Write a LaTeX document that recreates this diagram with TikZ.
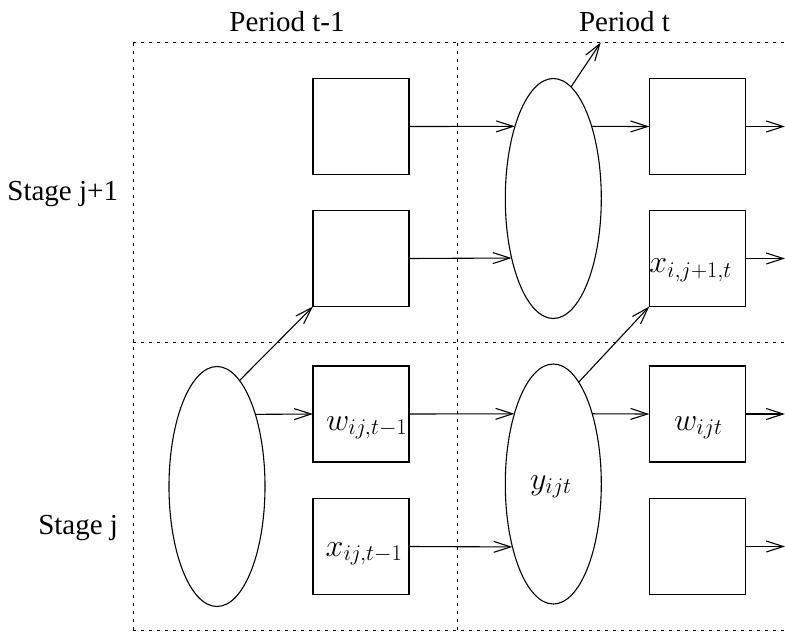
\RequirePackage{fix-cm}
\documentclass[tikz,border=0pt]{standalone}
\usepackage[no-math]{fontspec}
\setmainfont{Liberation Serif}
\usetikzlibrary{arrows.meta,shapes.geometric}
\begin{document}
\begin{tikzpicture}[x=1pt,y=-1pt,
  every node/.style={inner sep=0pt,outer sep=0pt},
  box/.style={draw,line width=1.1pt,minimum width=96pt,minimum height=96pt},
  ell/.style={draw,ellipse,line width=1.1pt,minimum width=96pt,minimum height=240pt},
  frame/.style={line width=1pt,dash pattern=on 3.3pt off 4.7pt},
  conn/.style={line width=1.1pt,-{Straight Barb[length=17pt,width=11pt]}},
  lbl/.style={font=\fontsize{29}{34}\selectfont},
  mlbl/.style={font=\fontsize{32}{38}\selectfont,anchor=base west}
]
\useasboundingbox (0,0) rectangle (785,632);
% frame
\draw[frame] (133,42.5) -- (785,42.5);
\draw[frame] (133,342) -- (785,342);
\draw[frame] (133,630) -- (785,630);
\draw[frame] (133,42.5) -- (133,630);
\draw[frame] (457,42.5) -- (457,630);
% boxes
\node[box] (a1) at (361,126.5) {};
\node[box] (a2) at (361,258.5) {};
\node[box] (a3) at (361,414) {};
\node[box] (a4) at (361,546.5) {};
\node[box] (c1) at (697.3,126.5) {};
\node[box] (c2) at (697.3,258.5) {};
\node[box] (c3) at (697.3,414) {};
\node[box] (c4) at (697.3,546.5) {};
% ellipses
\node[ell] (e1) at (217,486.5) {};
\node[ell] (et) at (553.3,198.5) {};
\node[ell] (eb) at (553.3,484) {};
% free ends
\coordinate (redge) at (785,0);
\coordinate (ptop) at (600.7,42.5);
% connectors
\draw[conn] (a1.east) -- (et.118);
\draw[conn] (a2.east) -- (et.235);
\draw[conn] (et.62) -- (c1.west);
\draw[conn] (et.81) -- (ptop);
\draw[conn] (a3.east) -- (eb.119);
\draw[conn] (a4.east) -- (eb.237);
\draw[conn] (eb.61) -- (c3.west);
\draw[conn] (eb.76) -- (c2.south west);
\draw[conn] (e1.62) -- (a3.west);
\draw[conn] (e1.78) -- (a2.south west);
\draw[conn] (c1.east) -- (c1.east -| redge);
\draw[conn] (c2.east) -- (c2.east -| redge);
\draw[conn] (c3.east) -- (c3.east -| redge);
\draw[conn] (c4.east) -- (c4.east -| redge);
% labels
\node[lbl,anchor=base] (p1) at (287,31) {Period t-1};
\node[lbl,anchor=base west] (p2) at (579,31) {Period t};
\node[lbl,anchor=base east] (s1) at (118,200) {Stage j+1};
\node[lbl,anchor=base east] (s2) at (118,534) {Stage j};
\node[mlbl] (m1) at (326,430) {$w_{ij,t-1}$};
\node[mlbl] (m2) at (325.7,556) {$x_{ij,t-1}$};
\node[mlbl] (m3) at (674,430) {$w_{ijt}$};
\node[mlbl] (m4) at (530,489) {$y_{ijt}$};
\node[mlbl] (m5) at (649.3,272.7) {$x_{i,j+1,t}$};
\end{tikzpicture}
\end{document}
